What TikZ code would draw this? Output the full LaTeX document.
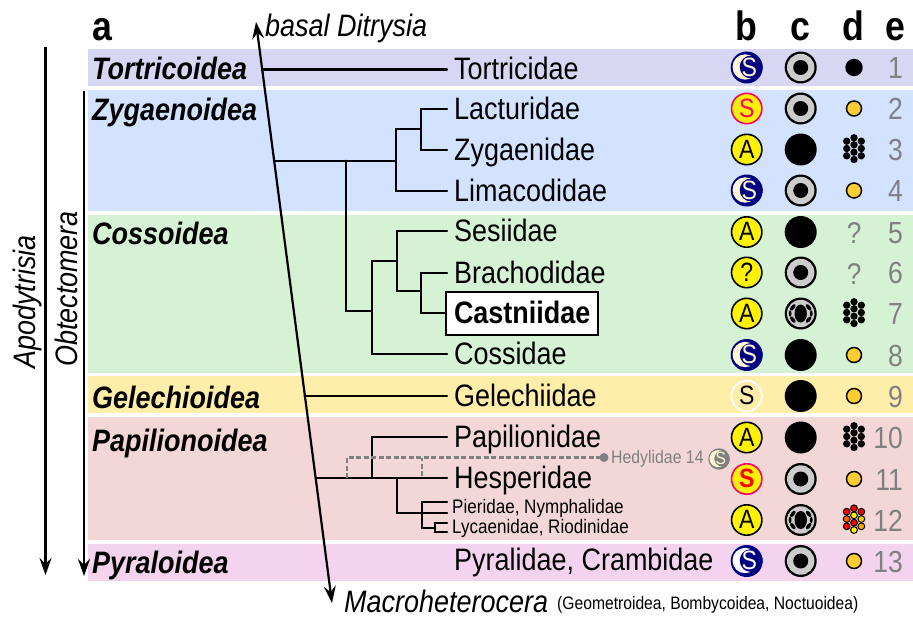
\documentclass[tikz,border=0pt]{standalone}
\usepackage{fontspec}
\setmainfont[FakeStretch=0.87]{Liberation Sans}
\usetikzlibrary{arrows.meta}
\definecolor{navyS}{HTML}{000080}
\definecolor{creamS}{HTML}{FFF6D5}
\definecolor{roseS}{HTML}{FF0066}
\definecolor{grayT}{HTML}{808080}
\definecolor{ringG}{HTML}{CCCCCC}
\definecolor{dotO}{HTML}{FFCC33}
\definecolor{dotR}{HTML}{FF6600}
\definecolor{dotY}{HTML}{FFCC00}
\definecolor{dotA}{HTML}{FFAA00}
\tikzset{
    famlabel/.style={anchor=west, inner xsep=7pt, inner ysep=0pt, text height=20pt, text depth=0pt, font=\fontsize{31}{36}\selectfont},
    smallfam/.style={anchor=west, inner xsep=5pt, inner ysep=0pt, text height=15pt, text depth=0pt, font=\fontsize{19.6}{24}\selectfont},
    suplabel/.style={anchor=west, inner sep=0pt, text height=22pt, text depth=0pt, font=\fontsize{31}{36}\selectfont\bfseries\itshape},
    sidelabel/.style={rotate=90, inner sep=0pt, font=\fontsize{31}{36}\selectfont\itshape},
    heading/.style={inner sep=0pt, text height=29pt, text depth=0pt, font=\fontsize{41}{44}\selectfont\bfseries},
    rownum/.style={anchor=east, inner sep=0pt, text height=22pt, text depth=0pt, text=grayT, font=\fontsize{30.5}{36}\selectfont},
    lettericon/.style={circle, draw=black, fill=yellow, line width=1.6pt, minimum size=30.4pt, inner sep=0pt, text height=17.5pt, text depth=0pt, font=\fontsize{26.5}{28}\selectfont},
    branch/.style={line width=2.2pt, line cap=round},
    hedyline/.style={line width=2.2pt, draw=grayT, dash pattern=on 5pt off 2.5pt},
    bigarrow/.style={line width=2.2pt, -{Stealth[length=17pt, width=12pt, inset=6pt]}},
}
% crescent icon: name, position, crescent colour, disc colour, scale
\newcommand{\moonicon}[5]{
    \begin{scope}[shift={(#2)}, scale=#5, transform shape]
        \fill[#4] (0,0) circle (16pt);
        \fill[#3] (-1.5,-0.5) circle (12.7pt);
        \fill[#4] (4.5,-0.5) circle (11.5pt);
        \node[inner sep=0pt, text=#3, text height=17.5pt, text depth=0pt, font=\fontsize{26.5}{28}\selectfont] (#1) at (2.5,0) {S};
    \end{scope}
}
% ring and wheel cross sections
\newcommand{\ringicon}[1]{
    \fill[black] (800.7,#1) circle (16pt);
    \fill[ringG] (800.7,#1) circle (13.7pt);
    \fill[black] (800.7,#1) circle (7.5pt);
}
\newcommand{\wheelicon}[1]{
    \begin{scope}[shift={(800.7,#1)}]
        \fill[black] (0,0) circle (16pt);
        \fill[ringG] (0,0) circle (13.7pt);
        \fill[black] (0,0) ellipse (6.2pt and 9pt);
        \foreach \a in {38,142,218,322} {
            \fill[black, rotate=\a] (10,0) ellipse (1.9pt and 3.8pt);
        }
        \fill[black] (-10.6,0) ellipse (1.4pt and 3.2pt);
        \fill[black] (10.6,0) ellipse (1.4pt and 3.2pt);
    \end{scope}
}
\begin{document}
\begin{tikzpicture}[x=1pt, y=-1pt]
    \useasboundingbox (0,0) rectangle (913,618);

    % bands
    \foreach \ya/\yb/\col in {49/86/D7D7F4, 90/210.7/D3E3FF, 214.7/372.7/D5F2D5, 376/412.7/FFEEAA, 416.7/540/F3D7D7, 544/580.7/F3D3EE} {
        \definecolor{bandcol}{HTML}{\col}
        \fill[bandcol] (88,\ya) rectangle (913,\yb);
    }

    % headings
    \node[heading] (heada) at (102.5,26) {a};
    \node[heading] (headb) at (746.7,26) {b};
    \node[heading] (headc) at (800.7,26) {c};
    \node[heading] (headd) at (853,26) {d};
    \node[heading] (heade) at (895,26) {e};

    % superfamilies
    \node[suplabel] (tortricoidea) at (92,68.5) {Tortricoidea};
    \node[suplabel] (zygaenoidea) at (92,110) {Zygaenoidea};
    \node[suplabel] (cossoidea) at (92,233.5) {Cossoidea};
    \node[suplabel] (gelechioidea) at (92,397.5) {Gelechioidea};
    \node[suplabel] (papilionoidea) at (92,440) {Papilionoidea};
    \node[suplabel] (pyraloidea) at (92,562.5) {Pyraloidea};

    % families
    \node[famlabel] (tortricidae) at (447,69.5) {Tortricidae};
    \node[famlabel] (lacturidae) at (447,109) {Lacturidae};
    \node[famlabel] (zygaenidae) at (447,150) {Zygaenidae};
    \node[famlabel] (limacodidae) at (447,191) {Limacodidae};
    \node[famlabel] (sesiidae) at (447,231) {Sesiidae};
    \node[famlabel] (brachodidae) at (447,273) {Brachodidae};
    \node[famlabel, draw=black, fill=white, line width=2pt, inner xsep=8pt, inner ysep=11.5pt, font=\fontsize{31}{36}\selectfont\bfseries] (castniidae) at (445,313) {Castniidae};
    \node[famlabel] (cossidae) at (447,354) {Cossidae};
    \node[famlabel] (gelechiidae) at (447,396) {Gelechiidae};
    \node[famlabel] (papilionidae) at (447,437) {Papilionidae};
    \node[famlabel] (hesperidae) at (447,478) {Hesperidae};
    \node[smallfam] (pieridae) at (447,506) {Pieridae, Nymphalidae};
    \node[smallfam] (lycaenidae) at (447,526) {Lycaenidae, Riodinidae};
    \node[famlabel] (pyralidae) at (447,560.5) {Pyralidae, Crambidae};

    % tree
    \coordinate (rootT) at (262,69.5);
    \coordinate (rootG) at (304.5,396);
    \coordinate (rootZ) at (274,160.7);
    \coordinate (zygN) at (396,160.7);
    \coordinate (lacN) at (421,129.3);
    \coordinate (cosN) at (346,160.7);
    \coordinate (cosB) at (372,311);
    \coordinate (sesB) at (397,261);
    \coordinate (braB) at (421,291);
    \coordinate (rootP) at (316,478);
    \coordinate (papN) at (372,478);
    \coordinate (nymN) at (397,478);
    \coordinate (pieN) at (421.7,513);
    \coordinate (pieE) at (447,502);
    \coordinate (nymE) at (447,513);
    \coordinate (lycN) at (435,528);
    \coordinate (lycE) at (447,523);
    \coordinate (rioE) at (447,532);

    \draw[branch] (rootT) -- (tortricidae.west);
    \draw[branch] (rootG) -- (gelechiidae.west);
    \draw[branch] (rootZ) -- (zygN) |- (limacodidae.west);
    \draw[branch] (zygN) |- (lacN);
    \draw[branch] (lacN) |- (lacturidae.west);
    \draw[branch] (lacN) |- (zygaenidae.west);
    \draw[branch] (cosN) |- (cosB);
    \draw[branch] (cosB) |- (cossidae.west);
    \draw[branch] (cosB) |- (sesB);
    \draw[branch] (sesB) |- (sesiidae.west);
    \draw[branch] (sesB) |- (braB);
    \draw[branch] (braB) |- (brachodidae.west);
    \draw[branch] (braB) |- (castniidae.west);
    \draw[branch] (rootP) -- (hesperidae.west);
    \draw[branch] (papN) |- (papilionidae.west);
    \draw[branch] (nymN) |- (pieN);
    \draw[branch] (pieN) |- (pieE);
    \draw[branch] (pieN) -- (nymE);
    \draw[branch] (pieN) |- (lycN);
    \draw[branch] (lycN) |- (lycE);
    \draw[branch] (lycN) |- (rioE);

    % Hedylidae
    \coordinate (hedyA) at (346.7,478);
    \coordinate (hedyB) at (421.7,476);
    \node[circle, fill=grayT, inner sep=0pt, minimum size=9pt] (hedydot) at (604,457.5) {};
    \draw[hedyline] (hedyA) |- (hedydot.center);
    \draw[hedyline] (hedyB) -- (421.7,457.5);
    \node[anchor=west, inner sep=0pt, text=grayT, font=\fontsize{18.2}{22}\selectfont] (hedylidae) at (611,459) {Hedylidae 14};
    \moonicon{hedyS}{719,459}{creamS}{grayT}{0.67}

    % arrows
    \coordinate (apoA) at (45.5,47);
    \coordinate (apoB) at (45.5,575);
    \coordinate (obtA) at (84,91);
    \coordinate (obtB) at (84,576);
    \coordinate (ditA) at (256,22);
    \coordinate (ditB) at (332,603);
    \draw[bigarrow] (apoA) -- (apoB);
    \draw[bigarrow] (obtA) -- (obtB);
    \draw[bigarrow, {Stealth[length=17pt, width=12pt, inset=6pt]}-{Stealth[length=17pt, width=12pt, inset=6pt]}] (ditA) -- (ditB);
    \node[sidelabel] (apodytrisia) at (27.5,302) {Apodytrisia};
    \node[sidelabel] (obtectomera) at (66,289) {Obtectomera};
    \node[anchor=west, inner sep=0pt, font=\fontsize{31}{36}\selectfont\itshape] (basal) at (265,28) {basal Ditrysia};
    \node[anchor=west, inner sep=0pt, font=\fontsize{31}{36}\selectfont\itshape] (macro) at (344,601) {Macroheterocera};
    \node[anchor=west, inner sep=0pt, font=\fontsize{18}{22}\selectfont] (macrofam) at (557,605) {(Geometroidea, Bombycoidea, Noctuoidea)};

    % column b
    \moonicon{bi}{746.7,67.5}{creamS}{navyS}{1}
    \node[lettericon, draw=roseS, text=roseS] (bii) at (746.7,108.5) {S};
    \node[lettericon] (biii) at (746.7,149.5) {A};
    \moonicon{biv}{746.7,190.5}{creamS}{navyS}{1}
    \node[lettericon] (bv) at (746.7,232) {A};
    \node[lettericon] (bvi) at (746.7,272.5) {?};
    \node[lettericon] (bvii) at (746.7,313.5) {A};
    \moonicon{bviii}{746.7,355}{creamS}{navyS}{1}
    \node[lettericon, draw=white, fill=none] (bix) at (746.7,396) {S};
    \node[lettericon] (bx) at (746.7,437.5) {A};
    \node[lettericon, draw=roseS, text=red, font=\fontsize{26.5}{28}\selectfont\bfseries] (bxi) at (746.7,479) {S};
    \node[lettericon] (bxii) at (746.7,520) {A};
    \moonicon{bxiii}{746.7,561}{white}{navyS}{1}

    % column c
    \foreach \y in {67.5,108.5,190.5,272.5,479,561} {
        \ringicon{\y}
    }
    \foreach \y in {149.5,232,355,396,437.5} {
        \fill[black] (800.7,\y) circle (16pt);
    }
    \wheelicon{313.5}
    \wheelicon{520}

    % column d
    \fill[black] (854,67.5) circle (8.7pt);
    \foreach \y in {108.5,190.5,355,396,479,561} {
        \fill[dotO, draw=black, line width=1.5pt] (854,\y) circle (7.5pt);
    }
    \foreach \y in {149.5,313.5,437.5} {
        \foreach \dx/\dy in {0/-11.7,0/-4.7,0/2.7,0/10,-7.3/-8.3,-7.3/-1,-7.3/6.3,7.3/-8.3,7.3/-1,7.3/6.3} {
            \fill[black] (854+\dx,\y+\dy) circle (3.7pt);
        }
    }
    \foreach \dx/\dy/\col in {-7.3/-8.3/red,-7.3/-1/dotR,-7.3/6.3/red,7.3/-8.3/red,7.3/-1/dotY,7.3/6.3/dotA,0/-11.7/red,0/-4.7/yellow,0/2.7/red,0/10/yellow} {
        \fill[\col, draw=black, line width=1pt] (854+\dx,520+\dy) circle (3.4pt);
    }
    \node[text=grayT, inner sep=0pt, text height=22pt, text depth=0pt, font=\fontsize{30}{36}\selectfont] (qv) at (854,232) {?};
    \node[text=grayT, inner sep=0pt, text height=22pt, text depth=0pt, font=\fontsize{30}{36}\selectfont] (qvi) at (854,273) {?};

    % column e
    \foreach \n/\y in {1/67.5,2/108.5,3/149.5,4/190.5,5/232,6/272.5,7/313.5,8/355,9/396,10/437.5,11/479,12/520,13/561} {
        \node[rownum] (num\n) at (903,\y) {\n};
    }
\end{tikzpicture}
\end{document}
